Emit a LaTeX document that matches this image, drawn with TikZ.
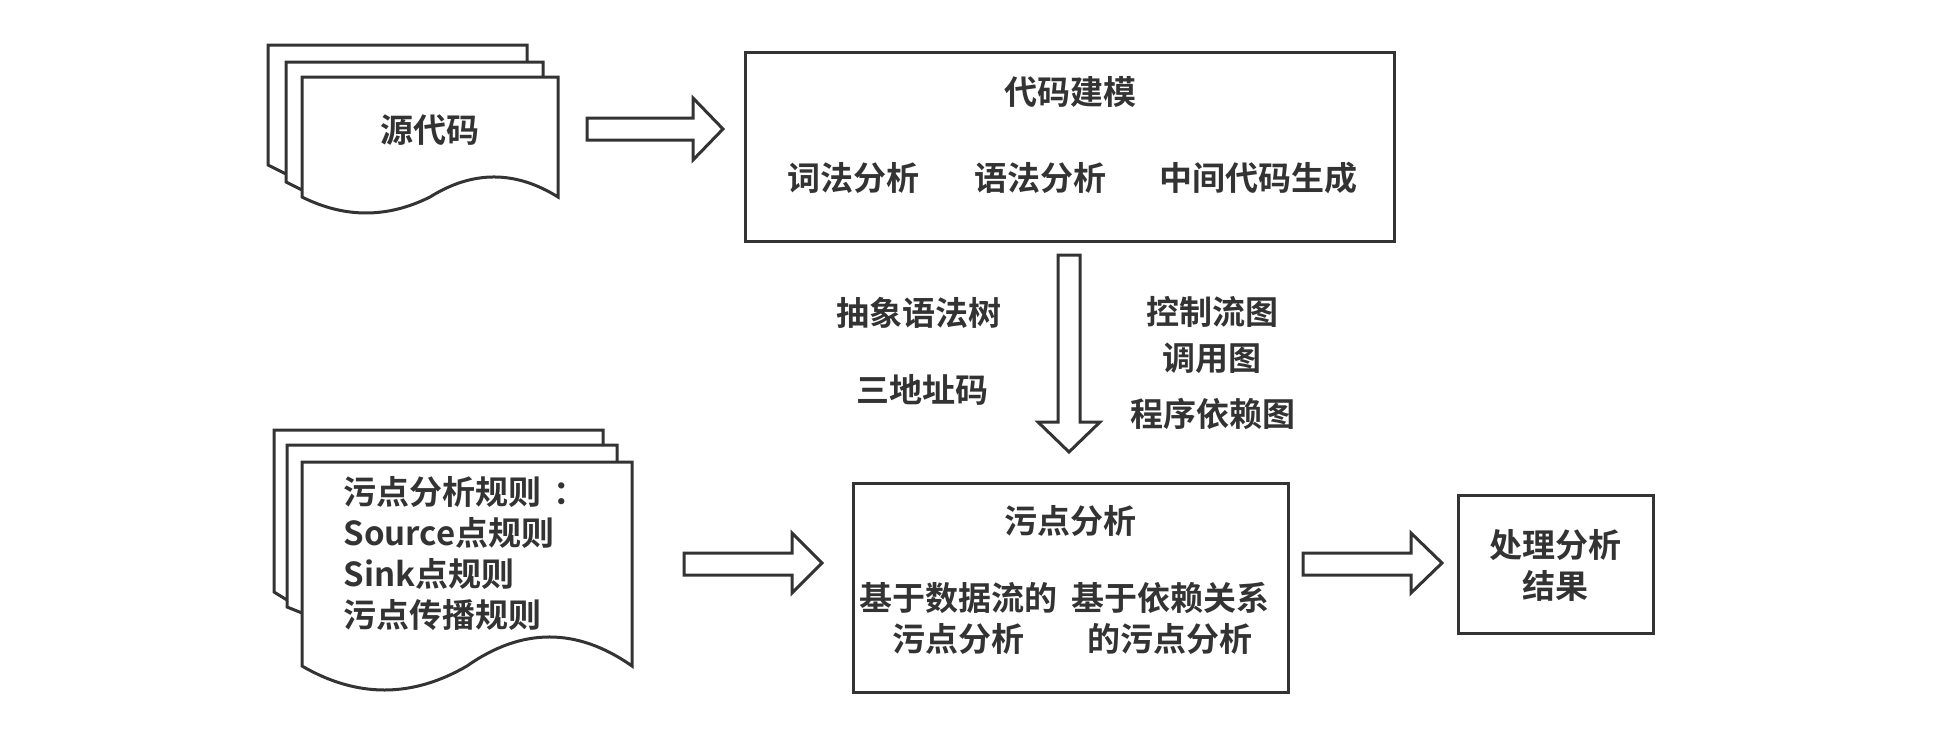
\documentclass[tikz,border=0pt]{standalone}
\usepackage{fontspec}
\setmainfont{Noto Sans CJK SC}[BoldFont={Noto Sans CJK SC Bold}]
\definecolor{ink}{HTML}{333333}
\begin{document}
\begin{tikzpicture}[x=1pt,y=-1pt,color=ink,line width=3pt,line join=miter,
  txt/.style={text=ink,font=\bfseries\fontsize{33}{41}\selectfont,inner sep=0pt,align=center},
  box/.style={draw=ink,line width=3pt,fill=white,inner sep=0pt},
  sheet/.style={draw=ink,line width=3pt,fill=white},
  blk/.style={draw=ink,line width=3pt,fill=white}]
\useasboundingbox[fill=white] (0,0) rectangle (1958,728);

% ---------- source code document stack ----------
\draw[sheet] (268,165) -- (268,45) -- (527,45) -- (527,100) -- (286,174) -- cycle;
\draw[sheet] (286,182) -- (286,62) -- (543,62) -- (543,120) -- (302,190) -- cycle;
\draw[sheet] (302,197) -- (302,77) -- (558,77) -- (558,197)
  .. controls (515.3,170.3) and (472.7,170.3) .. (430,197)
  .. controls (387.3,218.3) and (344.7,218.3) .. (302,197) -- cycle;
\node[txt] (src) at (430,130) {源代码};

% ---------- rules document stack ----------
\draw[sheet] (274,592) -- (274,430) -- (603,430) -- (603,500) -- (287,600) -- cycle;
\draw[sheet] (287,607) -- (287,445) -- (617,445) -- (617,520) -- (302,613) -- cycle;
\draw[sheet] (302,666) -- (302,462) -- (632,462) -- (632,666)
  .. controls (577,627.3) and (522,627.3) .. (467,666)
  .. controls (412,698) and (357,698) .. (302,666) -- cycle;
\node[txt,align=left,anchor=west] (rules) at (342,553.5)
  {污点分析规则\hspace{12pt}：\\Source点规则\\Sink点规则\\污点传播规则};

% ---------- code modeling box ----------
\node[box,minimum width=649pt,minimum height=189pt] (cm) at (1069.5,146.5) {};
\node[txt] (cmt) at (1070,92) {代码建模};
\node[txt] (lex) at (853,178) {词法分析};
\node[txt] (syn) at (1040,178) {语法分析};
\node[txt] (ir) at (1258,178) {中间代码生成};

% ---------- intermediate labels ----------
\node[txt] (ast) at (919,313) {抽象语法树};
\node[txt] (tac) at (922,390) {三地址码};
\node[txt] (cfg) at (1212,312) {控制流图};
\node[txt] (cg) at (1212,358) {调用图};
\node[txt] (pdg) at (1213,414) {程序依赖图};

% ---------- taint analysis box ----------
\node[box,minimum width=435pt,minimum height=209pt] (ta) at (1070.5,587.5) {};
\node[txt] (tat) at (1070,521) {污点分析};
\node[txt] (df) at (958,618) {基于数据流的\\污点分析};
\node[txt] (dep) at (1170,618) {基于依赖关系\\的污点分析};

% ---------- result box ----------
\node[box,minimum width=195pt,minimum height=138pt] (res) at (1555.5,564) {};
\node[txt] (rest) at (1555,565) {处理分析\\结果};

% ---------- block arrows ----------
\draw[blk] (587,118) -- (693,118) -- (693,98) -- (723,129) -- (693,160) -- (693,140) -- (587,140) -- cycle;
\draw[blk] (684,553) -- (792,553) -- (792,533) -- (822,563) -- (792,593) -- (792,575) -- (684,575) -- cycle;
\draw[blk] (1303,553) -- (1411,553) -- (1411,533) -- (1442,563) -- (1411,593) -- (1411,575) -- (1303,575) -- cycle;
\draw[blk] (1058,255) -- (1080,255) -- (1080,422) -- (1100,422) -- (1069,452) -- (1038,422) -- (1058,422) -- cycle;
\end{tikzpicture}
\end{document}
